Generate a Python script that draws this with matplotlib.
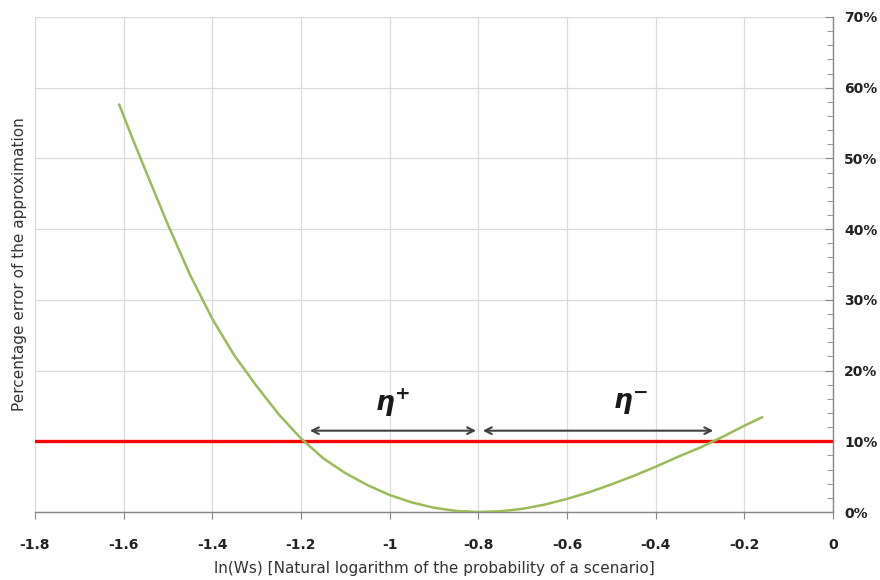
import matplotlib.pyplot as plt
from matplotlib.ticker import MultipleLocator, FuncFormatter

# curve (ln(Ws), percentage error in %)
ln_ws = [-1.61, -1.58, -1.55, -1.50, -1.45, -1.40, -1.35, -1.30, -1.25, -1.20,
         -1.15, -1.10, -1.05, -1.00, -0.95, -0.90, -0.85, -0.80, -0.75, -0.70,
         -0.65, -0.60, -0.55, -0.50, -0.45, -0.40, -0.35, -0.30, -0.25, -0.20, -0.16]
error_pct = [57.6, 52.8, 48.2, 40.6, 33.5, 27.3, 22.1, 17.8, 13.8, 10.4,
             7.6, 5.5, 3.8, 2.4, 1.35, 0.6, 0.15, 0.0, 0.1, 0.45,
             1.05, 1.85, 2.8, 3.9, 5.1, 6.4, 7.8, 9.1, 10.6, 12.2, 13.4]

threshold = 10
eta_plus = (-1.18, -0.805)
eta_minus = (-0.79, -0.27)
arrow_y = 11.5
label_y = 15.4

fig = plt.figure(figsize=(8.8, 5.8), dpi=100)
ax = fig.add_axes([35 / 880, 68 / 580, 798 / 880, 495 / 580])

ax.plot(ln_ws, error_pct, color="#9BBB59", lw=1.8, zorder=3)
ax.axhline(threshold, color="#FF0000", lw=2.4, zorder=2)

for (x0, x1) in [eta_plus, eta_minus]:
    ax.annotate("", xy=(x0, arrow_y), xytext=(x1, arrow_y),
                arrowprops=dict(arrowstyle="<->", color="#404040", lw=1.5,
                                shrinkA=0, shrinkB=0, mutation_scale=12),
                zorder=4)
ax.text(-0.995, label_y, r"$\mathbfit{\eta}^{\mathbf{+}}$", fontsize=19,
        ha="center", va="center", color="#1a1a1a")
ax.text(-0.458, label_y, r"$\mathbfit{\eta}^{\mathbf{-}}$", fontsize=19,
        ha="center", va="center", color="#1a1a1a")

ax.set_xlim(-1.8, 0)
ax.set_ylim(0, 70)
ax.xaxis.set_major_locator(MultipleLocator(0.2))
ax.xaxis.set_major_formatter(FuncFormatter(lambda v, p: f"{v:g}" if abs(v) > 1e-9 else "0"))
ax.yaxis.set_major_locator(MultipleLocator(10))
ax.yaxis.set_minor_locator(MultipleLocator(2))
ax.yaxis.set_major_formatter(FuncFormatter(lambda v, p: f"{v:.0f}%"))
ax.yaxis.tick_right()
ax.yaxis.set_label_position("left")

ax.grid(True, which="major", color="#DADADA", lw=0.9)
ax.set_axisbelow(True)
for s in ["top", "left"]:
    ax.spines[s].set_visible(False)
for s in ["bottom", "right"]:
    ax.spines[s].set_color("#868686")
    ax.spines[s].set_linewidth(1.0)

ax.tick_params(axis="x", which="major", direction="out", length=5, color="#868686",
               labelsize=10, pad=14, labelcolor="#222222")
ax.tick_params(axis="y", which="major", direction="in", length=6, color="#868686",
               labelsize=10, pad=8, labelcolor="#222222")
ax.tick_params(axis="y", which="minor", direction="in", length=4, color="#868686")
for lab in ax.get_xticklabels() + ax.get_yticklabels():
    lab.set_fontweight("bold")

ax.set_xlabel("ln(Ws) [Natural logarithm of the probability of a scenario]",
              fontsize=11, color="#333333", labelpad=6)
ax.set_ylabel("Percentage error of the approximation", fontsize=11,
              color="#333333", labelpad=6)

fig.savefig("out.png", dpi=100)
